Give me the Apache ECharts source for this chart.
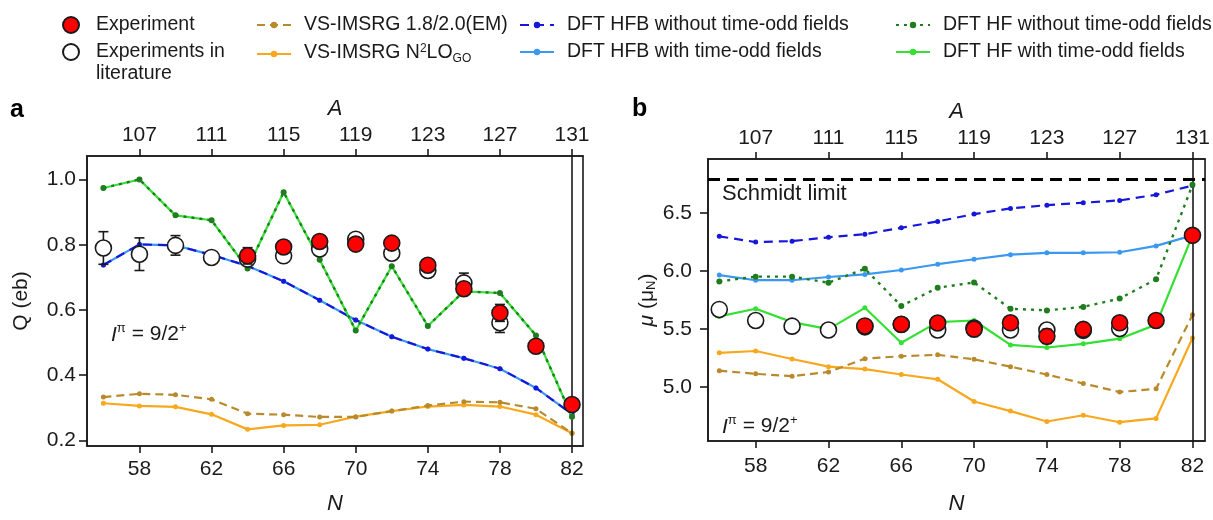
<!DOCTYPE html>
<html><head><meta charset="utf-8">
<script src="https://cdn.jsdelivr.net/npm/echarts@6/dist/echarts.min.js"></script>
<style>html,body{margin:0;padding:0;background:#fff}#c{width:1213px;height:520px}</style>
</head><body><div id="c"></div>
<script>
// ---------- data ----------
const N = [56,58,60,62,64,66,68,70,72,74,76,78,80,82];
const N_EXP = [64,66,68,70,72,74,76,78,80,82];
const N_LIT = [56,58,60,62,64,66,68,70,72,74,76,78];
const TICKS_N = [58,62,66,70,74,78,82];
const TICKS_A = [107,111,115,119,123,127,131];
const Z_IN = 49;               // A = N + Z
const TICKS_Q = [0.2,0.4,0.6,0.8,1.0];
const TICKS_MU = [5.0,5.5,6.0,6.5];
const SCHMIDT = 6.79;
const SHELL_N = 82;

// panel a : Q (eb)
const qHFBno = [0.738,0.801,0.798,0.769,0.735,0.688,0.630,0.569,0.518,0.480,0.452,0.420,0.361,0.281];
const qHFB   = [0.738,0.801,0.798,0.769,0.735,0.688,0.630,0.569,0.518,0.480,0.452,0.420,0.361,0.281];
const qHFno  = [0.974,1.000,0.890,0.875,0.727,0.961,0.754,0.537,0.734,0.551,0.657,0.652,0.522,0.273];
const qHF    = [0.974,1.000,0.890,0.875,0.727,0.961,0.754,0.537,0.734,0.551,0.657,0.652,0.522,0.273];
const qEM    = [0.333,0.343,0.340,0.326,0.282,0.279,0.272,0.272,0.290,0.307,0.319,0.317,0.297,0.222];
const qGO    = [0.314,0.306,0.303,0.280,0.234,0.246,0.248,0.273,0.290,0.304,0.309,0.304,0.279,0.222];
const qExp    = [0.766,0.793,0.810,0.802,0.805,0.737,0.665,0.591,0.489,0.310];
const qExpErr = [0.025,0.010,0.015,0.015,0.015,0.012,0.010,0.026,0.010,0.010];
const qLit    = [0.790,0.771,0.798,0.761,0.756,0.766,0.787,0.817,0.774,0.721,0.683,0.561];
const qLitErr = [0.050,0.050,0.030,0.010,0.020,0.010,0.010,0.015,0.010,0.010,0.030,0.030];

// panel b : mu (mu_N)
const muHFBno = [6.300,6.251,6.259,6.292,6.319,6.374,6.429,6.492,6.541,6.569,6.590,6.610,6.659,6.738];
const muHFB   = [5.966,5.922,5.922,5.950,5.972,6.010,6.060,6.103,6.142,6.158,6.158,6.163,6.218,6.309];
const muHFno  = [5.912,5.953,5.953,5.900,6.021,5.700,5.857,5.903,5.676,5.662,5.692,5.764,5.930,6.744];
const muHF    = [5.610,5.676,5.561,5.500,5.684,5.383,5.561,5.575,5.364,5.342,5.374,5.418,5.539,6.309];
const muGO    = [5.296,5.312,5.243,5.177,5.156,5.109,5.068,4.876,4.794,4.704,4.758,4.698,4.731,5.424];
const muEM    = [5.142,5.115,5.095,5.131,5.246,5.267,5.279,5.240,5.177,5.109,5.032,4.958,4.986,5.624];
const muExp    = [5.528,5.542,5.553,5.500,5.555,5.438,5.498,5.555,5.575,6.309];
const muExpErr = [0.010,0.010,0.010,0.045,0.050,0.060,0.010,0.010,0.010,0.010];
const muLit    = [5.670,5.575,5.526,5.493,5.520,5.540,5.493,5.510,5.493,5.493,5.490,5.506];
const muLitErr = [0.010,0.010,0.010,0.010,0.010,0.010,0.010,0.010,0.010,0.040,0.010,0.010];

// ---------- styling ----------
const FONT = "'Liberation Sans', Arial, Helvetica, sans-serif";
const INK = '#1a1a1a';
const NAMES = {
  exp: 'Experiment',
  lit: 'Experiments in literature',
  EM: 'VS-IMSRG 1.8/2.0(EM)',
  GO: 'VS-IMSRG N2LOGO',
  HFBno: 'DFT HFB without time-odd fields',
  HFB: 'DFT HFB with time-odd fields',
  HFno: 'DFT HF without time-odd fields',
  HF: 'DFT HF with time-odd fields'
};
const STY = {
  EM:    {color:'#b88a2b', type:[8,5], width:2.2, size:5},
  GO:    {color:'#f7a81e', type:'solid', width:2.2, size:5},
  HFBno: {color:'#1717d9', type:[9,6], width:2.2, size:5},
  HFB:   {color:'#3a98f0', type:'solid', width:2.2, size:5},
  HFno:  {color:'#1f7d1f', type:[3,5], width:2.4, size:6},
  HF:    {color:'#33e033', type:'solid', width:2.2, size:5}
};
const pts = (xs, ys) => xs.map((x,i) => [x, ys[i]]);

function lineSeries(key, xi, yi, xs, ys, z, extra) {
  const s = STY[key];
  return Object.assign({
    type:'line', name: NAMES[key], xAxisIndex:xi, yAxisIndex:yi, data: pts(xs, ys),
    symbol:'circle', symbolSize:s.size, showSymbol:true, z:z,
    lineStyle:{color:s.color, width:s.width, type:s.type},
    itemStyle:{color:s.color}, emphasis:{disabled:true}
  }, extra || {});
}
function errSeries(xi, yi, xs, ys, es, z) {
  return {
    type:'custom', xAxisIndex:xi, yAxisIndex:yi, z:z, silent:true,
    data: xs.map((x,i) => [x, ys[i], es[i]]),
    encode:{x:0, y:1},
    renderItem: function(params, api) {
      const x = api.value(0), y = api.value(1), e = api.value(2);
      const t = api.coord([x, y + e]), b = api.coord([x, y - e]);
      const w = 5, st = {stroke:INK, lineWidth:1.6};
      return {type:'group', children:[
        {type:'line', shape:{x1:t[0], y1:t[1], x2:b[0], y2:b[1]}, style:st},
        {type:'line', shape:{x1:t[0]-w, y1:t[1], x2:t[0]+w, y2:t[1]}, style:st},
        {type:'line', shape:{x1:b[0]-w, y1:b[1], x2:b[0]+w, y2:b[1]}, style:st}
      ]};
    }
  };
}
function scatterSeries(key, xi, yi, xs, ys, fill, z) {
  return {
    type:'scatter', name:NAMES[key], xAxisIndex:xi, yAxisIndex:yi, data: pts(xs, ys),
    symbol:'circle', symbolSize:16, z:z,
    itemStyle:{color:fill, borderColor:INK, borderWidth:1.6, opacity:1}, emphasis:{disabled:true}
  };
}

function panelSeries(xi, yi, d, isB) {
  return [
    lineSeries('GO', xi, yi, N, d.GO, 2),
    lineSeries('EM', xi, yi, N, d.EM, 3),
    lineSeries('HFB', xi, yi, N, d.HFB, 4),
    lineSeries('HFBno', xi, yi, N, d.HFBno, 5),
    lineSeries('HF', xi, yi, N, d.HF, 6, {
      markLine:{silent:true, symbol:'none', animation:false, label:{show:false},
        lineStyle:{color:INK, width:1.6, type:'solid'}, emphasis:{disabled:true},
        data: isB ? [{xAxis:SHELL_N}, {yAxis:SCHMIDT, lineStyle:{color:'#000', width:3, type:[12,7]}}]
                  : [{xAxis:SHELL_N}]}
    }),
    lineSeries('HFno', xi, yi, N, d.HFno, 7),
    errSeries(xi, yi, N_LIT, d.lit, d.litErr, 8),
    scatterSeries('lit', xi, yi, N_LIT, d.lit, '#ffffff', 9),
    errSeries(xi, yi, N_EXP, d.exp, d.expErr, 10),
    scatterSeries('exp', xi, yi, N_EXP, d.exp, '#ff0000', 11)
  ];
}

const tickLabel = {fontSize:21, color:INK, fontFamily:FONT};
function xAxisDef(grid, pos, min, max, ticks, name, nameGap, margin) {
  return {
    gridIndex:grid, type:'value', position:pos, min:min, max:max,
    splitLine:{show:false},
    axisLine:{show:true, onZero:false, lineStyle:{color:INK, width:1.6}},
    axisTick:{show:true, inside:false, length:7, customValues:ticks, lineStyle:{color:INK, width:1.6}},
    axisLabel:Object.assign({customValues:ticks, margin:margin}, tickLabel),
    name:name, nameLocation:'middle', nameGap:nameGap,
    nameTextStyle:{fontSize:22, fontStyle:'italic', color:INK, fontFamily:FONT}
  };
}
function yAxisDef(grid, min, max, ticks, name, nameGap, margin, rich) {
  return {
    gridIndex:grid, type:'value', position:'left', min:min, max:max,
    splitLine:{show:false},
    axisLine:{show:true, onZero:false, lineStyle:{color:INK, width:1.6}},
    axisTick:{show:true, inside:false, length:8, customValues:ticks, lineStyle:{color:INK, width:1.6}},
    axisLabel:Object.assign({customValues:ticks, margin:margin, formatter: v => v.toFixed(1)}, tickLabel),
    name:name, nameLocation:'middle', nameGap:nameGap, nameRotate:90,
    nameTextStyle:{fontSize:21, color:INK, fontFamily:FONT, rich:rich}
  };
}

const LEG_TEXT = {fontSize:19.5, lineHeight:22, color:INK, fontFamily:FONT, padding:[0,0,0,8]};
function legend(extra) {
  return Object.assign({orient:'vertical', padding:0, itemWidth:34, itemHeight:8, itemGap:5,
    selectedMode:false, textStyle:LEG_TEXT}, extra);
}

const option = {
  animation:false,
  backgroundColor:'#ffffff',
  textStyle:{fontFamily:FONT},
  grid:[
    {left:87, top:156, width:496, height:291, show:true, borderColor:INK, borderWidth:1.6, backgroundColor:'transparent'},
    {left:708, top:159, width:503, height:295, show:true, borderColor:INK, borderWidth:1.6, backgroundColor:'transparent'}
  ],
  xAxis:[
    xAxisDef(0, 'bottom', 55.09, 82.61, TICKS_N, 'N', 47, 13),
    xAxisDef(0, 'top', 55.09 + Z_IN, 82.61 + Z_IN, TICKS_A, 'A', 35, 10),
    xAxisDef(1, 'bottom', 55.38, 82.69, TICKS_N, 'N', 52, 15),
    xAxisDef(1, 'top', 55.38 + Z_IN, 82.69 + Z_IN, TICKS_A, 'A', 36, 10)
  ],
  yAxis:[
    yAxisDef(0, 0.183, 1.072, TICKS_Q, 'Q (eb)', 55, 11, {}),
    yAxisDef(1, 4.536, 6.967, TICKS_MU, '{i|μ} (μ{s|N})', 50, 16,
      {i:{fontSize:21, fontStyle:'italic', color:INK, fontFamily:FONT},
       s:{fontSize:13, color:INK, fontFamily:FONT, verticalAlign:'bottom', lineHeight:12, padding:[8,0,0,0]}})
  ],
  legend:[
    legend({data:[NAMES.exp], left:62, top:14, itemHeight:16,
      textStyle:Object.assign({}, LEG_TEXT, {padding:[0,0,0,3]})}),
    legend({data:[NAMES.lit], left:62, top:19, itemHeight:16,
      formatter: function(){ return '\nExperiments in\nliterature'; },
      textStyle:Object.assign({}, LEG_TEXT, {padding:[0,0,0,3]})}),
    legend({data:[NAMES.EM, NAMES.GO], left:256, top:14,
      formatter: function(name){ return name === NAMES.GO ? '{t|VS-IMSRG N}{sup|2}{t|LO}{sub|GO}' : name; },
      textStyle:Object.assign({}, LEG_TEXT, {rich:{
        t:{fontSize:19.5, lineHeight:22, color:INK, fontFamily:FONT, verticalAlign:'top'},
        sup:{fontSize:12, lineHeight:12, color:INK, fontFamily:FONT, verticalAlign:'top'},
        sub:{fontSize:12, lineHeight:12, color:INK, fontFamily:FONT, verticalAlign:'bottom', padding:[12,0,0,0]}
      }})}),
    legend({data:[NAMES.HFBno, NAMES.HFB], left:519, top:14}),
    legend({data:[NAMES.HFno, NAMES.HF], left:895, top:14})
  ],
  graphic:[
    {type:'text', left:10, top:98, style:{text:'a', fontSize:25, fontWeight:'bold', fill:'#000', fontFamily:FONT}},
    {type:'text', left:632, top:97, style:{text:'b', fontSize:25, fontWeight:'bold', fill:'#000', fontFamily:FONT}},
    {type:'text', left:722, top:183, style:{text:'Schmidt limit', fontSize:22, fill:INK, fontFamily:FONT}},
    {type:'text', left:111, top:322, style:{text:'{i|I}{p|π} = 9/2{p|+}', fontSize:21, fill:INK, fontFamily:FONT,
      rich:{i:{fontSize:21, fontStyle:'italic', fill:INK, fontFamily:FONT, lineHeight:24, verticalAlign:'bottom'},
            p:{fontSize:13, fill:INK, fontFamily:FONT, lineHeight:13, verticalAlign:'top'}}}},
    {type:'text', left:722, top:414, style:{text:'{i|I}{p|π} = 9/2{p|+}', fontSize:21, fill:INK, fontFamily:FONT,
      rich:{i:{fontSize:21, fontStyle:'italic', fill:INK, fontFamily:FONT, lineHeight:24, verticalAlign:'bottom'},
            p:{fontSize:13, fill:INK, fontFamily:FONT, lineHeight:13, verticalAlign:'top'}}}}
  ],
  series:[].concat(
    panelSeries(0, 0, {GO:qGO, EM:qEM, HFB:qHFB, HFBno:qHFBno, HF:qHF, HFno:qHFno,
      exp:qExp, expErr:qExpErr, lit:qLit, litErr:qLitErr}, false),
    panelSeries(2, 1, {GO:muGO, EM:muEM, HFB:muHFB, HFBno:muHFBno, HF:muHF, HFno:muHFno,
      exp:muExp, expErr:muExpErr, lit:muLit, litErr:muLitErr}, true)
  )
};

const chart = echarts.init(document.getElementById('c'), null, {renderer:'canvas'});
chart.setOption(option);
</script>
</body></html>
